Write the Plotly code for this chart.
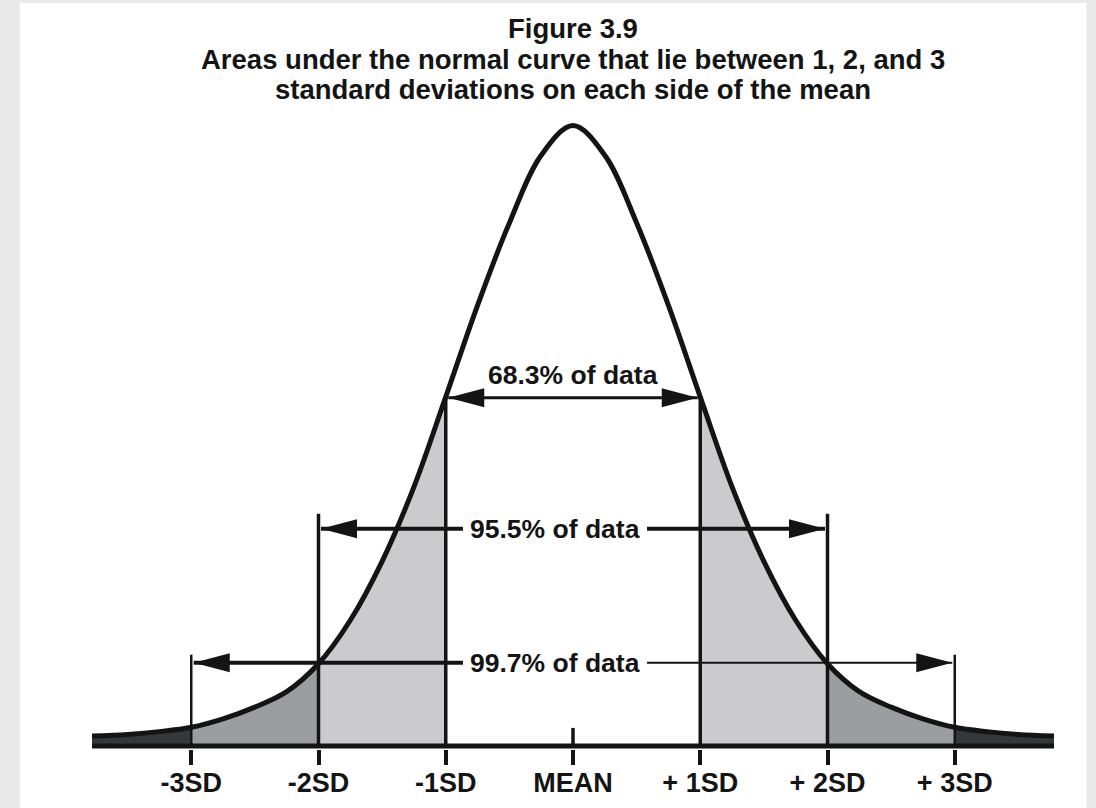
import plotly.graph_objects as go

# ---------------- data ----------------
curve_z = [-3.78, -3.5, -3.25, -3.0, -2.75, -2.5, -2.25, -2.0, -1.75, -1.5, -1.25, -1.0,
           -0.75, -0.5, -0.25, 0.0,
           0.25, 0.5, 0.75, 1.0, 1.25, 1.5, 1.75, 2.0, 2.25, 2.5, 2.75, 3.0,
           3.25, 3.5, 3.78]
curve_h = [0.016, 0.0185, 0.023, 0.030, 0.0437, 0.0625, 0.0875, 0.1325, 0.2025, 0.2975, 0.4175, 0.5625,
           0.710, 0.843, 0.952, 1.0,
           0.952, 0.843, 0.710, 0.5625, 0.4175, 0.2975, 0.2025, 0.1325, 0.0875, 0.0625, 0.0437, 0.030,
           0.023, 0.0185, 0.016]

sd_positions = [-3, -2, -1, 0, 1, 2, 3]
tick_labels = ["-3SD", "-2SD", "-1SD", "MEAN", "+ 1SD", "+ 2SD", "+ 3SD"]

band_labels = ["68.3% of data", "95.5% of data", "99.7% of data"]
band_sd = [1, 2, 3]
band_levels = [0.561, 0.350, 0.134]     # height of each double arrow
marker_tops = [0.565, 0.374, 0.147]     # top of the vertical lines at +-1, +-2, +-3 SD

title_lines = ["Figure 3.9",
               "Areas under the normal curve that lie between 1, 2, and 3",
               "standard deviations on each side of the mean"]

# ---------------- styling / layout constants ----------------
W, H = 1096, 808
PX_PER_SD = 127.2
PX_PER_UNIT = 620.5
MEAN_PX = 573
BASE_PX = 746
Y_LO = -0.005
PLOT_TOP_PX = 80

INK = "#141414"
LIGHT = "#cbcbcf"
MID = "#9b9da0"
DARK = "#34383b"
FONT = "Liberation Sans, Arial, sans-serif"
FS = 26.5

x_lo, x_hi = curve_z[0], curve_z[-1]
left_px = MEAN_PX + x_lo * PX_PER_SD
right_px = MEAN_PX + x_hi * PX_PER_SD
bottom_px = BASE_PX - Y_LO * PX_PER_UNIT
y_hi = Y_LO + (bottom_px - PLOT_TOP_PX) / PX_PER_UNIT
plot_w = right_px - left_px
plot_h = bottom_px - PLOT_TOP_PX

def py_to_paper(py):
    return (bottom_px - py) / plot_h

def px_to_paper(px):
    return (px - left_px) / plot_w

dz = lambda px: px / PX_PER_SD
dy = lambda px: px / PX_PER_UNIT

fig = go.Figure()

# shaded regions under the curve
regions = [(x_lo, -3, DARK), (-3, -2, MID), (-2, -1, LIGHT),
           (1, 2, LIGHT), (2, 3, MID), (3, x_hi, DARK)]
for lo, hi, col in regions:
    zs = [z for z in curve_z if lo <= z <= hi]
    hs = [h for z, h in zip(curve_z, curve_h) if lo <= z <= hi]
    fig.add_trace(go.Scatter(x=zs, y=hs, mode="lines", line=dict(width=0, shape="spline"),
                             fill="tozeroy", fillcolor=col, hoverinfo="skip"))

# vertical marker lines at +-1, +-2, +-3 SD
widths = [3.5, 3.5, 2.5]
for sd, top, w in zip(band_sd, marker_tops, widths):
    for s in (-1, 1):
        fig.add_trace(go.Scatter(x=[s * sd, s * sd], y=[0, top], mode="lines",
                                 line=dict(color=INK, width=w), hoverinfo="skip"))

# short mean tick above baseline
fig.add_trace(go.Scatter(x=[0, 0], y=[0, dy(18)], mode="lines",
                         line=dict(color=INK, width=3.5), hoverinfo="skip"))

# the curve
fig.add_trace(go.Scatter(x=curve_z, y=curve_h, mode="lines",
                         line=dict(color=INK, width=5, shape="spline"), hoverinfo="skip"))

# baseline
fig.add_trace(go.Scatter(x=[x_lo, x_hi], y=[0, 0], mode="lines",
                         line=dict(color=INK, width=5), hoverinfo="skip"))

# double arrows
label_x = [0.0, dz(555 - MEAN_PX), dz(555 - MEAN_PX)]
label_y_off = [dy(23), 0, 0]
gap_half = dz(92)
tip_off = dz(2.5)
head_len = dz(36)
head_half = dy(9.5)
line_w = [(3, 3), (4, 4), (4, 2)]
shapes = []
for i, (sd, lev) in enumerate(zip(band_sd, band_levels)):
    lx = label_x[i]
    lw_l, lw_r = line_w[i]
    if i == 0:
        fig.add_trace(go.Scatter(x=[-sd + tip_off, sd - tip_off], y=[lev, lev], mode="lines",
                                 line=dict(color=INK, width=lw_l), hoverinfo="skip"))
    else:
        fig.add_trace(go.Scatter(x=[-sd + tip_off, lx - gap_half], y=[lev, lev], mode="lines",
                                 line=dict(color=INK, width=lw_l), hoverinfo="skip"))
        fig.add_trace(go.Scatter(x=[lx + gap_half, sd - tip_off], y=[lev, lev], mode="lines",
                                 line=dict(color=INK, width=lw_r), hoverinfo="skip"))
    for s in (-1, 1):
        tip = s * (sd - tip_off)
        base = tip - s * head_len
        shapes.append(dict(type="path", xref="x", yref="y",
                           path=f"M {tip},{lev} L {base},{lev + head_half} L {base},{lev - head_half} Z",
                           fillcolor=INK, line=dict(width=0), layer="above"))
    fig.add_annotation(x=lx, y=lev + label_y_off[i], xref="x", yref="y", text=band_labels[i],
                       showarrow=False, xanchor="center", yanchor="middle",
                       font=dict(family=FONT, size=FS, color=INK, weight="bold"))

# white panel behind everything
shapes.append(dict(type="rect", xref="paper", yref="paper",
                   x0=px_to_paper(20), x1=px_to_paper(1086),
                   y0=py_to_paper(H + 60), y1=py_to_paper(3),
                   fillcolor="white", line=dict(width=0), layer="below"))

# title lines
title_py = [28, 59, 90]
for txt, ty in zip(title_lines, title_py):
    fig.add_annotation(x=px_to_paper(MEAN_PX), y=py_to_paper(ty), xref="paper", yref="paper",
                       text=txt, showarrow=False, xanchor="center", yanchor="middle",
                       font=dict(family=FONT, size=27.5, color=INK, weight="bold"))

fig.update_layout(
    width=W, height=H,
    margin=dict(l=left_px, r=W - right_px, t=PLOT_TOP_PX, b=H - bottom_px, pad=0,
                autoexpand=False),
    paper_bgcolor="#e9e9e9", plot_bgcolor="white",
    showlegend=False, shapes=shapes,
    xaxis=dict(range=[x_lo, x_hi], tickvals=sd_positions, ticktext=tick_labels,
               ticks="outside", ticklen=15, tickwidth=3.5, tickcolor=INK, automargin=False,
               ticklabelstandoff=-5,
               showgrid=False, zeroline=False, showline=False,
               tickfont=dict(family=FONT, size=27, color=INK, weight="bold")),
    yaxis=dict(range=[Y_LO, y_hi], visible=False, showgrid=False, zeroline=False,
               automargin=False),
)

fig.write_html("out.html", config={"displayModeBar": False},
               post_script="document.body.style.margin='0';document.body.style.overflow='hidden';")
